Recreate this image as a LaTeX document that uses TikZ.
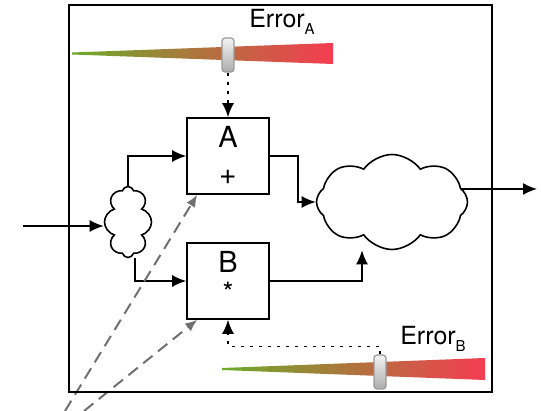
\documentclass[tikz,border=0pt]{standalone}
\usepackage{fontspec}
\setmainfont{TeX Gyre Heros}
\usetikzlibrary{arrows.meta}
\usetikzlibrary{shapes.symbols}
\pgfdeclarelayer{edgelayer}
\pgfdeclarelayer{nodelayer}
\pgfsetlayers{edgelayer,nodelayer,main}
\definecolor{errgreen}{RGB}{108,170,42}
\definecolor{errmid}{RGB}{168,148,62}
\definecolor{errred}{RGB}{245,60,82}
\definecolor{guessgray}{RGB}{112,112,112}
\tikzstyle{none}=[inner sep=0pt]
\tikzstyle{block}=[rectangle,fill=white,draw=black,line width=1.6pt,minimum width=82pt,minimum height=76pt]
\tikzstyle{blob}=[cloud,cloud ignores aspect,cloud puffs=8,fill=white,draw=black,line width=1.6pt,inner sep=0pt]
\tikzstyle{knob}=[rectangle,rounded corners=3pt,minimum width=12pt,minimum height=34pt,draw=gray!80,line width=1.2pt,top color=gray!10,bottom color=gray!65]
\tikzstyle{flow}=[-{Latex[length=14pt,width=12pt]},draw=black,line width=1.6pt]
\tikzstyle{tune}=[-{Latex[length=14pt,width=12pt]},draw=black,line width=1.6pt,dash pattern=on 3pt off 6pt]
\tikzstyle{guess}=[-{Latex[length=12pt,width=10pt]},draw=guessgray,line width=2pt,dash pattern=on 12pt off 7pt]

\begin{document}
\begin{tikzpicture}[x=1pt,y=-1pt]
	\useasboundingbox (0,0) rectangle (541,411);
	\begin{pgfonlayer}{nodelayer}
		\node [style=block] (0) at (228, 156) {};
		\node [style=block] (1) at (228, 281) {};
		\node [style=blob,minimum width=47pt,minimum height=71pt] (2) at (128, 222) {};
		\node [style=blob,cloud puffs=8,cloud puff arc=110,minimum width=151pt,minimum height=95pt] (3) at (392, 202) {};
		\node [style=knob] (4) at (228, 55) {};
		\node [style=knob] (5) at (380, 372) {};
		\node [style=none] (6) at (228, 137) {\fontsize{29}{30}\selectfont A};
		\node [style=none] (7) at (228, 177) {\fontsize{30}{30}\selectfont +};
		\node [style=none] (8) at (228, 262) {\fontsize{29}{30}\selectfont B};
		\node [style=none] (9) at (228, 292) {\fontsize{28}{28}\selectfont *};
		\node [style=none,anchor=base] (10) at (282, 28) {\fontsize{25}{26}\selectfont Error\raisebox{-0.28em}{\fontsize{15}{15}\selectfont A}};
		\node [style=none,anchor=base] (11) at (433, 345) {\fontsize{25}{26}\selectfont Error\raisebox{-0.28em}{\fontsize{15}{15}\selectfont B}};
		\node [style=none] (12) at (23, 226) {};
		\node [style=none] (13) at (537, 189) {};
		\node [style=none] (14) at (65, 411) {};
		\node [style=none] (15) at (84, 411) {};
	\end{pgfonlayer}
	\begin{pgfonlayer}{edgelayer}
		\shade [left color=errgreen,middle color=errmid,right color=errred] (72, 52.5) -- (333, 43) -- (333, 64) -- (72, 54.5) -- cycle;
		\shade [left color=errgreen,middle color=errmid,right color=errred] (222, 368) -- (485, 358) -- (485, 380) -- (222, 370) -- cycle;
		\draw [style=flow] (12.center) -- (12.center -| 2.west);
		\draw [style=flow] (2.north) |- (0.west);
		\draw [style=flow] ([xshift=7pt]2.south) |- (1.west);
		\draw [style=flow] (0.east) -- ++(28, 0) |- (3.west);
		\draw [style=flow] (1.east) -| ([xshift=-30pt]3.south);
		\draw [style=flow] (3.center |- 13.center) -- (13.center);
		\draw [style=tune] (4.south) -- (0.north);
		\draw [style=tune] (5.north) -- ++(0, -8) -| (1.south);
		\draw [style=guess] (14.center) -- ([xshift=11pt]0.south west);
		\draw [style=guess] (15.center) -- ([xshift=11pt]1.south west);
	\end{pgfonlayer}
	\draw [line width=1.6pt] (69, 5) rectangle (492, 392);
\end{tikzpicture}
\end{document}
